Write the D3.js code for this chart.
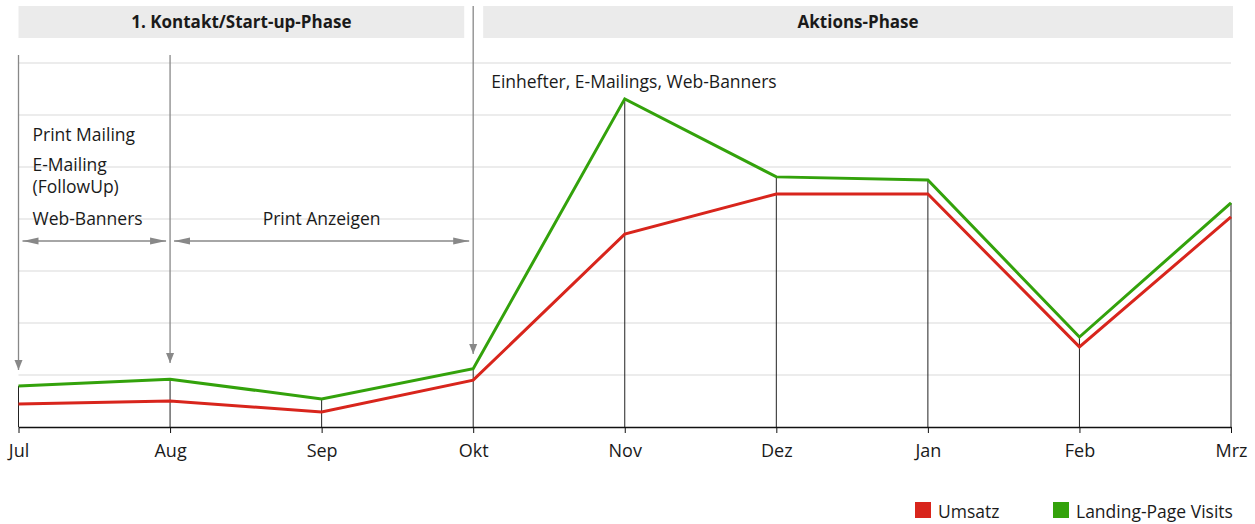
<!DOCTYPE html>
<html>
<head>
<meta charset="utf-8">
<script src="https://cdn.jsdelivr.net/npm/d3@7"></script>
<style>
    body { margin: 0; background: #fff; }
    svg { display: block; font-family: "Open Sans", sans-serif; }
    .note { font-size: 17.5px; fill: #1a1a1a; }
    .phase { font-size: 17px; font-weight: bold; fill: #1a1a1a; }
</style>
</head>
<body>
<div id="canvas"></div>
<script>
// months on the x axis
const months = ["Jul", "Aug", "Sep", "Okt", "Nov", "Dez", "Jan", "Feb", "Mrz"];

// series values (arbitrary units 0..70)
const umsatz = [4.4, 5.0, 2.9, 9.0, 37.1, 44.8, 44.8, 15.4, 40.4];
const visits = [7.9, 9.2, 5.4, 11.2, 63.1, 48.1, 47.5, 17.3, 43.1];

const seriesNames = ["Umsatz", "Landing-Page Visits"];
const seriesColors = ["#d8251c", "#33a20b"];

const phaseNames = ["1. Kontakt/Start-up-Phase", "Aktions-Phase"];

const gridValues = [10, 20, 30, 40, 50, 60, 70];

const width = 1255, height = 524;
const margin = {top: 63, right: 24, bottom: 97, left: 18.5};

const svg = d3.select("#canvas")
    .append("svg")
    .attr("width", width)
    .attr("height", height);

const xScale = d3.scalePoint()
    .domain(months)
    .range([margin.left, width - margin.right]);

const yScale = d3.scaleLinear()
    .domain([0, 70])
    .range([height - margin.bottom, margin.top]);

const x0 = xScale.range()[0], x1 = xScale.range()[1];
const yBase = yScale(0);

// arrowheads
const defs = svg.append("defs");
defs.append("marker")
    .attr("id", "head")
    .attr("viewBox", "0 0 10 10")
    .attr("refX", 10).attr("refY", 5)
    .attr("markerWidth", 10).attr("markerHeight", 10)
    .attr("markerUnits", "userSpaceOnUse")
    .attr("orient", "auto-start-reverse")
    .append("path")
    .attr("d", "M0,1 L10,5 L0,9 Z")
    .attr("fill", "#888");
defs.append("marker")
    .attr("id", "headLong")
    .attr("viewBox", "0 0 16 10")
    .attr("refX", 16).attr("refY", 5)
    .attr("markerWidth", 16).attr("markerHeight", 10)
    .attr("markerUnits", "userSpaceOnUse")
    .attr("orient", "auto-start-reverse")
    .append("path")
    .attr("d", "M0,1.5 L16,5 L0,8.5 Z")
    .attr("fill", "#888");

// grey grid
svg.append("g")
    .selectAll("line")
    .data(gridValues)
    .join("line")
    .attr("x1", x0).attr("x2", x1)
    .attr("y1", d => yScale(d)).attr("y2", d => yScale(d))
    .attr("stroke", "#ececec")
    .attr("stroke-width", 2);

// phase headers
const phaseBox = [[x0, xScale("Okt") - 9], [xScale("Okt") + 10, x1 + 2]];
const headers = svg.append("g");
phaseNames.forEach((p, i) => {
    headers.append("rect")
        .attr("x", phaseBox[i][0])
        .attr("y", 6)
        .attr("width", phaseBox[i][1] - phaseBox[i][0])
        .attr("height", 32)
        .attr("fill", "#ebebeb");
    headers.append("text")
        .attr("class", "phase")
        .attr("x", (phaseBox[i][0] + phaseBox[i][1]) / 2)
        .attr("y", 28)
        .attr("text-anchor", "middle")
        .text(p);
});

// campaign start arrows (grey, pointing down)
const starts = [
    {month: "Jul", top: 55, tip: 370},
    {month: "Aug", top: 55, tip: 363},
    {month: "Okt", top: 6, tip: 354}
];
svg.append("g")
    .selectAll("line")
    .data(starts)
    .join("line")
    .attr("x1", d => xScale(d.month)).attr("x2", d => xScale(d.month))
    .attr("y1", d => d.top).attr("y2", d => d.tip)
    .attr("stroke", "#888")
    .attr("stroke-width", 1.3)
    .attr("marker-end", "url(#head)");

// duration arrows
const spans = [["Jul", "Aug"], ["Aug", "Okt"]];
svg.append("g")
    .selectAll("line")
    .data(spans)
    .join("line")
    .attr("x1", d => xScale(d[0]) + 4).attr("x2", d => xScale(d[1]) - 4)
    .attr("y1", 241).attr("y2", 241)
    .attr("stroke", "#888")
    .attr("stroke-width", 1.5)
    .attr("marker-start", "url(#headLong)")
    .attr("marker-end", "url(#headLong)");

// annotation texts
const notes = svg.append("g");
const tx = xScale("Jul") + 14;
[["Print Mailing", 141], ["E-Mailing", 171], ["(FollowUp)", 193], ["Web-Banners", 225]]
    .forEach(n => notes.append("text").attr("class", "note").attr("x", tx).attr("y", n[1]).text(n[0]));
notes.append("text").attr("class", "note")
    .attr("x", (xScale("Aug") + xScale("Okt")) / 2).attr("y", 225)
    .attr("text-anchor", "middle")
    .text("Print Anzeigen");
notes.append("text").attr("class", "note")
    .attr("x", xScale("Okt") + 18).attr("y", 88)
    .text("Einhefter, E-Mailings, Web-Banners");

// drop lines from data points to axis
svg.append("g")
    .selectAll("line")
    .data(months)
    .join("line")
    .attr("x1", d => xScale(d)).attr("x2", d => xScale(d))
    .attr("y1", (d, i) => yScale(Math.max(visits[i], umsatz[i])))
    .attr("y2", yBase)
    .attr("stroke", "#222")
    .attr("stroke-width", 1);

// x axis
const xAxis = svg.append("g")
    .attr("transform", "translate(0," + yBase + ")")
    .call(d3.axisBottom(xScale).tickSize(6).tickSizeOuter(0).tickPadding(11));
xAxis.select(".domain").attr("stroke", "#111").attr("stroke-width", 1.3);
xAxis.selectAll(".tick line").attr("stroke", "#111");
xAxis.selectAll(".tick text")
    .attr("font-family", "Open Sans")
    .attr("font-size", 18)
    .attr("fill", "#1a1a1a");

// series lines
const line = d3.line()
    .x((d, i) => xScale(months[i]))
    .y(d => yScale(d));

[umsatz, visits].forEach((s, i) => {
    svg.append("path")
        .datum(s)
        .attr("d", line)
        .attr("fill", "none")
        .attr("stroke", seriesColors[i])
        .attr("stroke-width", 3)
        .attr("stroke-linejoin", "miter");
});

// legend
const legendX = [915, 1053];
const legend = svg.append("g");
seriesNames.forEach((n, i) => {
    legend.append("rect")
        .attr("x", legendX[i]).attr("y", 502)
        .attr("width", 16).attr("height", 16)
        .attr("fill", seriesColors[i]);
    legend.append("text")
        .attr("class", "note")
        .attr("x", legendX[i] + 23).attr("y", 518)
        .text(n);
});
</script>
</body>
</html>
